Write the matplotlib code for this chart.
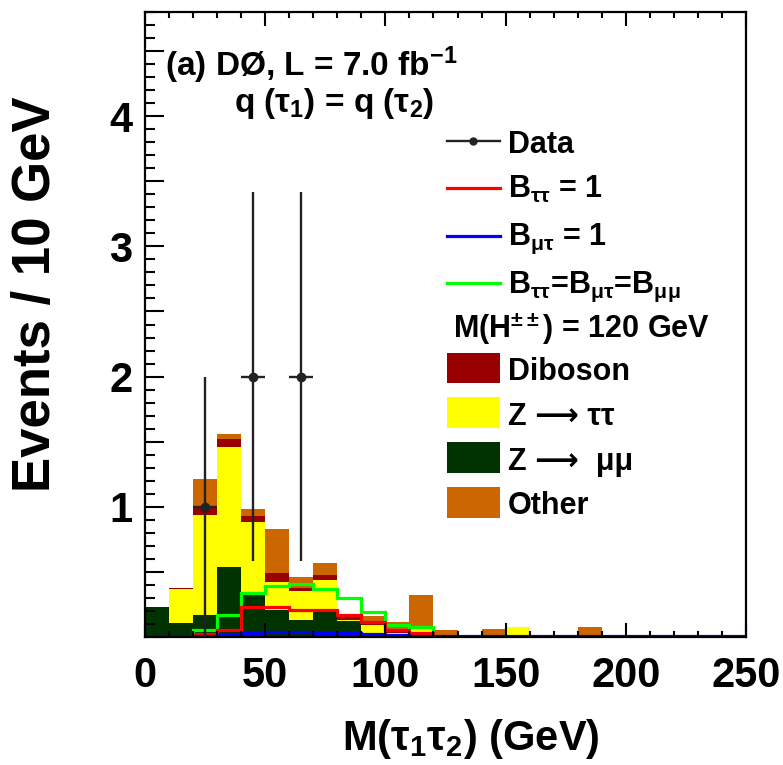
import numpy as np
import matplotlib
matplotlib.use("Agg")
import matplotlib.pyplot as plt
from matplotlib.patches import Rectangle
from matplotlib.lines import Line2D
from matplotlib.ticker import MultipleLocator, FuncFormatter

plt.rcParams['font.family'] = ['Liberation Sans', 'DejaVu Sans']
plt.rcParams['font.weight'] = 'bold'
plt.rcParams['axes.labelweight'] = 'bold'
plt.rcParams['mathtext.fontset'] = 'custom'
plt.rcParams['mathtext.rm'] = 'Liberation Sans:bold'
plt.rcParams['mathtext.it'] = 'Liberation Sans:bold'
plt.rcParams['mathtext.bf'] = 'Liberation Sans:bold'
plt.rcParams['mathtext.sf'] = 'Liberation Sans'

# 10 GeV bins from 0 to 250 GeV
bin_edges = np.arange(0, 260, 10)

# Background contributions per bin (events / 10 GeV), stacked bottom to top
bkg_zmumu = [0.23, 0.105, 0.17, 0.535, 0.32, 0.21, 0.13, 0.195, 0.12, 0.02,
             0.01, 0.005, 0, 0, 0, 0, 0, 0, 0, 0, 0, 0, 0, 0, 0]
bkg_ztautau = [0, 0.265, 0.77, 0.925, 0.56, 0.21, 0.22, 0.245, 0.01, 0.07,
               0.02, 0.075, 0, 0, 0, 0.08, 0, 0, 0, 0, 0, 0, 0, 0, 0]
bkg_diboson = [0, 0.005, 0.05, 0.06, 0.05, 0.07, 0.03, 0.035, 0.02, 0.02,
               0.01, 0, 0, 0, 0, 0, 0, 0, 0, 0, 0, 0, 0, 0, 0]
bkg_other = [0, 0.005, 0.22, 0.04, 0.05, 0.34, 0.08, 0.095, 0, 0.055,
             0.075, 0.24, 0.05, 0, 0.065, 0, 0, 0, 0.08, 0, 0, 0, 0, 0, 0]

# Signal expectations for M(H++) = 120 GeV
sig_tautau = [0, 0, 0.02, 0.05, 0.23, 0.23, 0.21, 0.21, 0.17, 0.115,
              0.055, 0.03, 0, 0, 0, 0, 0, 0, 0, 0, 0, 0, 0, 0, 0]
sig_mutau = [0.01, 0.01, 0.01, 0.015, 0.03, 0.035, 0.035, 0.03, 0.03, 0.02,
             0.012, 0.01, 0.01, 0.01, 0.01, 0.01, 0.01, 0.01, 0.01, 0.01,
             0.01, 0.01, 0.01, 0.01, 0.01]
sig_equal = [0, 0, 0.05, 0.17, 0.34, 0.39, 0.41, 0.37, 0.30, 0.19,
             0.09, 0.08, 0, 0, 0, 0, 0, 0, 0, 0, 0, 0, 0, 0, 0]

# Observed events
data_centers = [25, 45, 65]
data_counts = [1, 2, 2]

col_zmumu = '#003300'
col_ztautau = '#ffff00'
col_diboson = '#990000'
col_other = '#cc6600'

fig = plt.figure(figsize=(7.83, 7.65), dpi=100)
ax = fig.add_axes([145 / 783, 128 / 765, 601 / 783, 625 / 765])

# stacked backgrounds
cum = np.zeros(len(bin_edges) - 1)
for vals, col in [(bkg_zmumu, col_zmumu), (bkg_ztautau, col_ztautau),
                  (bkg_diboson, col_diboson), (bkg_other, col_other)]:
    top = cum + np.asarray(vals)
    ax.stairs(top, bin_edges, baseline=cum, fill=True, color=col, lw=0)
    cum = top

# signal curves
ax.stairs(sig_equal, bin_edges, baseline=None, color='#00ff00', lw=2.3)
ax.stairs(sig_tautau, bin_edges, baseline=None, color='#ff0000', lw=2.3)
ax.stairs(sig_mutau, bin_edges, baseline=None, color='#0000ff', lw=2.3)

# data with sqrt(N) uncertainties
half_bin = (bin_edges[1] - bin_edges[0]) / 2
ax.errorbar(data_centers, data_counts, xerr=half_bin,
            yerr=np.sqrt(data_counts), fmt='o', color='#222222',
            ms=6, lw=1.7, capsize=0, zorder=5)

ax.set_xlim(0, 250)
ax.set_ylim(0, 4.8)

for s in ax.spines.values():
    s.set_linewidth(1.6)

ax.xaxis.set_major_locator(MultipleLocator(50))
ax.xaxis.set_minor_locator(MultipleLocator(10))
ax.yaxis.set_major_locator(MultipleLocator(0.5))
ax.yaxis.set_minor_locator(MultipleLocator(0.1))
ax.yaxis.set_major_formatter(FuncFormatter(
    lambda v, p: f"{int(round(v))}" if abs(v - round(v)) < 1e-6 and v > 0.5 else ""))

ax.tick_params(axis='x', which='major', direction='in', length=10, width=1.5,
               top=True, bottom=True, labelsize=30, pad=14)
ax.tick_params(axis='x', which='minor', direction='in', length=4.3, width=1.5,
               top=True, bottom=True)
ax.tick_params(axis='y', which='major', direction='in', length=14, width=1.5,
               left=True, right=False, labelsize=30, pad=9)
ax.tick_params(axis='y', which='minor', direction='in', length=7, width=1.5,
               left=True, right=False)

ax.set_xlabel('M(τ$_1$τ$_2$) (GeV)', fontsize=30, va='center')
ax.xaxis.set_label_coords(0.542, -0.163)
ax.set_ylabel('Events / 10 GeV', fontsize=38, va='center')
ax.yaxis.set_label_coords(-0.181, 0.548)


def ax_x(px):
    return (px - 145) / 601


def ax_y(py):
    return (637 - py) / 625


ax.text(ax_x(165), ax_y(76), '(a) DØ, L = 7.0 fb$^{-1}$', fontsize=24,
        transform=ax.transAxes, ha='left', va='baseline')
ax.text(ax_x(334), ax_y(112), 'q (τ$_1$) = q (τ$_2$)', fontsize=24,
        transform=ax.transAxes, ha='center', va='baseline')

# legend
tr = ax.transAxes
lx0, lx1, tx = ax_x(447), ax_x(500), ax_x(508)
leg_fs = 22

ax.add_line(Line2D([lx0, lx1], [ax_y(141)] * 2, color='#222222', lw=1.7,
                   transform=tr))
ax.add_line(Line2D([(lx0 + lx1) / 2], [ax_y(141)], color='#222222',
                   marker='o', ms=5, transform=tr))
ax.text(tx, ax_y(153), 'Data', fontsize=leg_fs, transform=tr, va='baseline')

for yc, yb, col, lab in [
        (188, 198, '#ff0000', r'B$_{\mathsf{ττ}}$ = 1'),
        (236, 245, '#0000ff', r'B$_{\mathsf{μτ}}$ = 1'),
        (283, 293, '#00ff00', r'B$_{\mathsf{ττ}}$=B$_{\mathsf{μτ}}$=B$_{\mathsf{μμ}}$')]:
    ax.add_line(Line2D([lx0, lx1], [ax_y(yc)] * 2, color=col, lw=2.3,
                       transform=tr))
    ax.text(tx, ax_y(yb), lab, fontsize=leg_fs, transform=tr, va='baseline')

ax.text(ax_x(453), ax_y(338), r'M(H$^{\pm\pm}$) = 120 GeV', fontsize=leg_fs,
        transform=tr, va='baseline')

for ytop, ybot, yb, col, lab in [
        (353, 383, 380, col_diboson, 'Diboson'),
        (397, 428, 425, col_ztautau, 'Z ⟶ ττ'),
        (442, 473, 470, col_zmumu, 'Z ⟶  μμ'),
        (487, 518, 514, col_other, 'Other')]:
    ax.add_patch(Rectangle((lx0, ax_y(ybot)), lx1 - lx0,
                           ax_y(ytop) - ax_y(ybot), facecolor=col,
                           edgecolor='none', transform=tr))
    ax.text(tx, ax_y(yb), lab, fontsize=leg_fs, transform=tr, va='baseline')

fig.savefig('out.png', dpi=100)
